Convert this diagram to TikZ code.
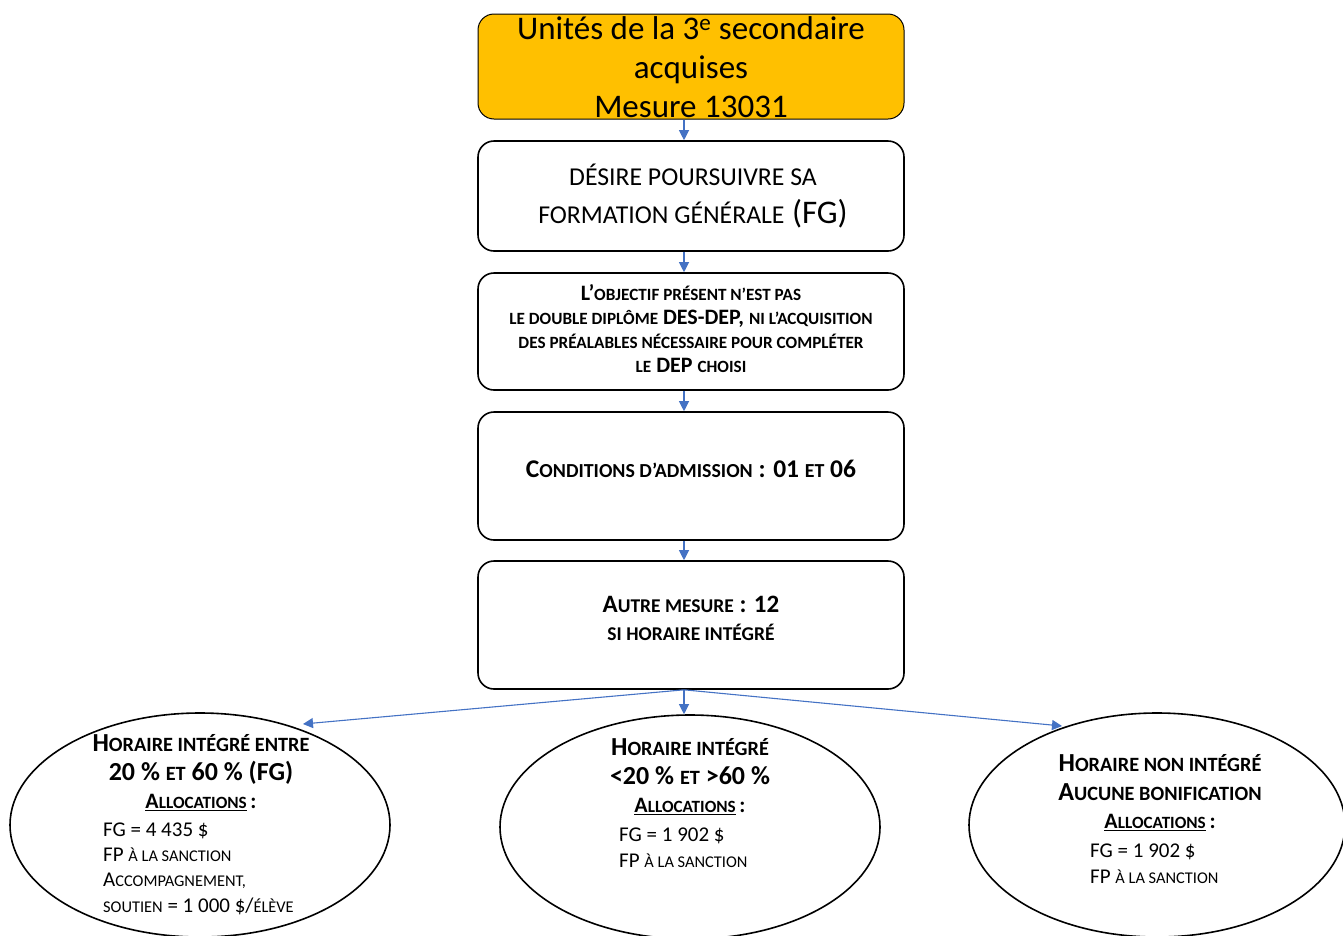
\documentclass[tikz,border=0pt]{standalone}
\usepackage{fontspec}
\setmainfont{Carlito}
\usepackage{graphicx}
\usetikzlibrary{arrows.meta,shapes.geometric}
\newcommand\smc[1]{\scalebox{0.78}{#1}}
\newcommand\alloc{{\fontsize{22}{28.5}\selectfont\underline{A\smc{LLOCATIONS}}\,:}}
\definecolor{boxorange}{HTML}{FFC000}
\definecolor{arrblue}{HTML}{4472C4}
\tikzset{
  box/.style={draw=black, line width=1.6pt, rounded corners=16pt, minimum width=426pt, inner sep=0pt, align=center, fill=white},
  oval/.style={draw=black, line width=1.6pt, ellipse, inner sep=0pt, minimum width=380pt, minimum height=224pt},
  arr/.style={draw=arrblue, line width=1.1pt, -{Triangle[width=10pt,length=10pt]}},
  txt/.style={inner sep=0pt, align=center},
  body/.style={inner sep=0pt, align=left, anchor=base west, font=\fontsize{21}{25.3}\selectfont},
  head/.style={txt, font=\bfseries\fontsize{26}{28.5}\selectfont}
}
\begin{document}
\begin{tikzpicture}[x=1pt,y=-1pt]
\useasboundingbox (0,0) rectangle (1343,935);
% boxes
\node[box, fill=boxorange, minimum height=105pt, line width=1pt] (b1) at (691,66.5) {};
\node[txt, font=\fontsize{33}{39}\selectfont] (t1) at (691,67) {Unités de la 3\textsuperscript{e} secondaire\\acquises\\Mesure 13031};
\node[box, minimum height=110pt] (b2) at (691,196) {};
\node[txt, font=\fontsize{33}{38}\selectfont] (t2) at (693,196) {\smc{DÉSIRE POURSUIVRE SA}\\\smc{FORMATION GÉNÉRALE} (FG)};
\node[box, minimum height=117pt] (b3) at (691,331.5) {};
\node[txt, font=\bfseries\fontsize{22}{24}\selectfont] (t3) at (691,329) {L’\smc{OBJECTIF PRÉSENT N’EST PAS}\\\smc{LE DOUBLE DIPLÔME} DES-DEP, \smc{NI L’ACQUISITION}\\\smc{DES PRÉALABLES NÉCESSAIRE POUR COMPLÉTER}\\\smc{LE} DEP \smc{CHOISI}};
\node[box, minimum height=128pt] (b4) at (691,476) {};
\node[txt, font=\bfseries\fontsize{25.5}{28}\selectfont] (t4) at (691,469) {C\smc{ONDITIONS D’ADMISSION} : 01 \smc{ET} 06};
\node[box, minimum height=128pt] (b5) at (691,625) {};
\node[txt, font=\bfseries\fontsize{25}{28}\selectfont] (t5) at (691,618) {A\smc{UTRE MESURE} : 12\\\smc{SI HORAIRE INTÉGRÉ}};
% ellipses
\node[oval] (e1) at (200,825) {};
\node[oval] (e2) at (690,827) {};
\node[oval, minimum width=376pt] (e3) at (1157,825) {};
% ellipse texts
\node[head] (h1) at (201,773) {H\smc{ORAIRE INTÉGRÉ ENTRE}\\20 \% \smc{ET} 60 \% (FG)\\\alloc};
\node[body] (p1) at (103,912) {FG = 4 435 \$\\FP \smc{À LA SANCTION}\\A\smc{CCOMPAGNEMENT,}\\\smc{SOUTIEN} = 1 000 \$/\smc{ÉLÈVE}};
\node[head] (h2) at (690,777) {H\smc{ORAIRE INTÉGRÉ}\\<20 \% \smc{ET} >60 \%\\\alloc};
\node[body] (p2) at (619,867) {FG = 1 902 \$\\FP \smc{À LA SANCTION}};
\node[head] (h3) at (1160,793) {H\smc{ORAIRE NON INTÉGRÉ}\\A\smc{UCUNE BONIFICATION}\\\alloc};
\node[body] (p3) at (1090,883) {FG = 1 902 \$\\FP \smc{À LA SANCTION}};
% arrows
\draw[arr] ([xshift=-7pt]b1.south) -- ([xshift=-7pt]b2.north);
\draw[arr] ([xshift=-7pt]b2.south) -- ([xshift=-7pt]b3.north);
\draw[arr] ([xshift=-7pt]b3.south) -- ([xshift=-7pt]b4.north);
\draw[arr] ([xshift=-7pt]b4.south) -- ([xshift=-7pt]b5.north);
\coordinate (fan) at ([xshift=-7pt]b5.south);
\coordinate (tl) at (303,724);
\coordinate (tr) at (1062,726);
\draw[arr] (fan) -- (tl);
\draw[arr] (fan) -- ([xshift=-6pt]e2.north);
\draw[arr] (fan) -- (tr);
\end{tikzpicture}
\end{document}
